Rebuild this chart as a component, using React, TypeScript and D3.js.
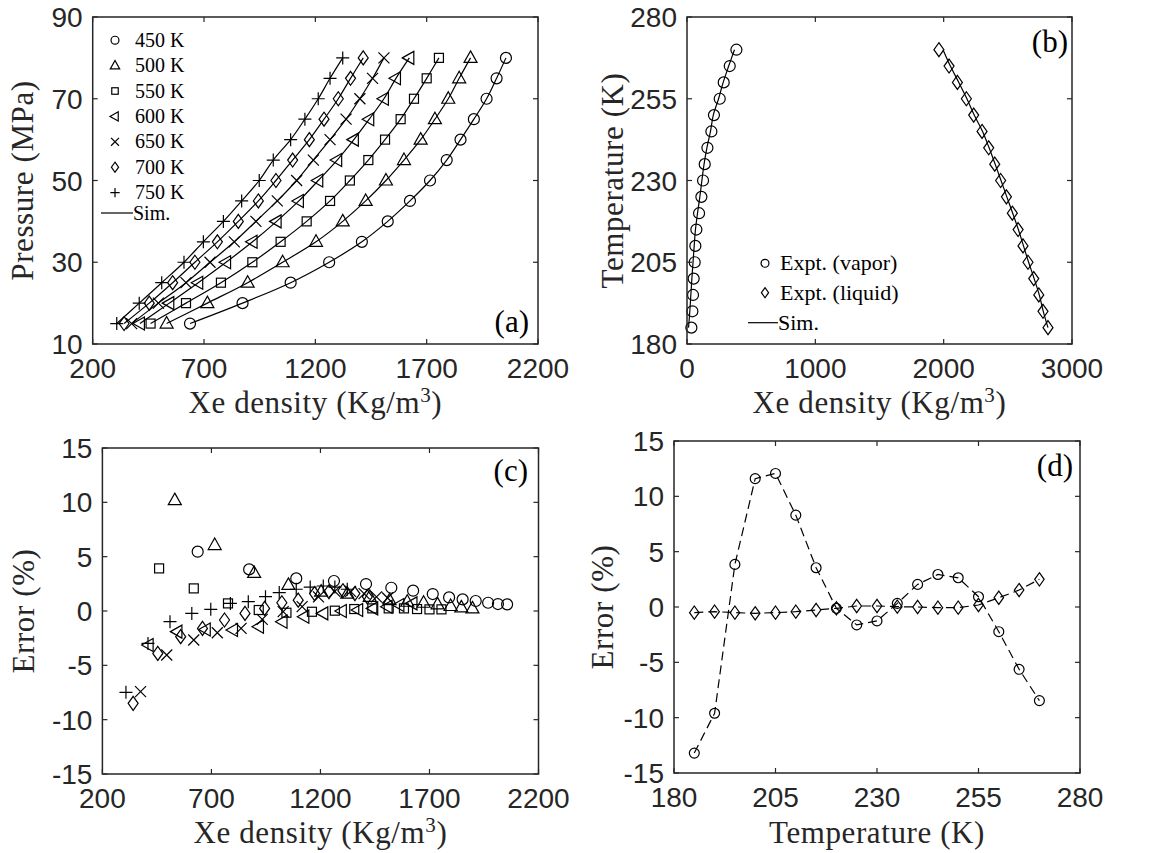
import React from 'react';
import * as d3 from 'd3';

// ---------------- DATA ----------------
const PRESSURES = [15, 20, 25, 30, 35, 40, 45, 50, 55, 60, 65, 70, 75, 80];
const ISOTHERM_LABELS = ['450 K', '500 K', '550 K', '600 K', '650 K', '700 K', '750 K'];
const ISOTHERM_MARKERS = ['circle', 'triUp', 'square', 'triLeft', 'cross', 'diamond', 'plus'];

// Xe density (kg/m3) along each isotherm at PRESSURES
const rho450 = [637, 873, 1089, 1262, 1409, 1525, 1625, 1715, 1790, 1852, 1912, 1969, 2014, 2056];
const rho500 = [532, 715, 896, 1053, 1203, 1323, 1426, 1517, 1598, 1673, 1737, 1797, 1846, 1897];
const rho550 = [460, 619, 776, 917, 1044, 1161, 1266, 1355, 1438, 1513, 1583, 1643, 1700, 1755];
const rho600 = [412, 544, 674, 799, 918, 1026, 1126, 1213, 1298, 1373, 1442, 1508, 1562, 1622];
const rho650 = [375, 495, 619, 727, 836, 933, 1029, 1116, 1191, 1266, 1338, 1400, 1457, 1508];
const rho700 = [341, 454, 559, 659, 760, 854, 944, 1023, 1098, 1173, 1239, 1303, 1358, 1415];
const rho750 = [308, 409, 510, 610, 697, 787, 869, 948, 1011, 1089, 1153, 1213, 1266, 1323];

// Error (%) for each isotherm point (panel c)
const err450 = [5.46, 3.83, 3.0, 2.76, 2.48, 2.14, 1.87, 1.56, 1.25, 1.07, 0.92, 0.76, 0.64, 0.61];
const err500 = [10.2, 6.07, 3.5, 2.4, 1.78, 1.6, 1.3, 1.0, 0.85, 0.76, 0.61, 0.46, 0.33, 0.24];
const err550 = [3.92, 2.08, 0.7, 0.09, -0.16, -0.07, 0.03, 0.18, 0.24, 0.24, 0.24, 0.18, 0.15, 0.15];
const err600 = [-3.13, -1.9, -1.7, -1.75, -1.44, -0.98, -0.52, -0.22, 0.0, 0.09, 0.24, 0.4, 0.55, 0.7];
const err650 = [-7.42, -4.05, -2.67, -2.0, -1.6, -0.77, -0.06, 0.4, 1.3, 1.8, 1.8, 1.6, 1.3, 1.2];
const err700 = [-8.5, -3.9, -2.36, -1.6, -0.83, -0.22, 0.24, 0.76, 1.0, 1.6, 1.78, 1.87, 1.6, 1.3];
const err750 = [-7.48, -2.98, -0.98, -0.22, 0.15, 0.7, 0.86, 1.32, 1.7, 2.0, 2.2, 2.3, 2.2, 2.0];

// Panel b: saturation densities
const SAT_TEMPS = [185, 190, 195, 200, 205, 210, 215, 220, 225, 230, 235, 240, 245, 250, 255, 260, 265, 270];
const rhoVapor = [34, 42, 47, 52, 60, 65, 73, 94, 112, 125, 138, 159, 190, 210, 255, 286, 333, 385];
const rhoLiquid = [2813, 2774, 2741, 2702, 2657, 2618, 2580, 2535, 2489, 2444, 2398, 2351, 2299, 2234, 2177, 2107, 2042, 1963];
const simVapor = [12, 22, 30, 38, 47, 56, 66, 82, 100, 116, 133, 155, 183, 205, 246, 282, 325, 370];
const simLiquid = [2813, 2776, 2745, 2705, 2662, 2622, 2582, 2538, 2492, 2447, 2401, 2354, 2303, 2238, 2181, 2118, 2052, 1995];

// Panel d: errors (%)
const errVapor = [-13.2, -9.6, 3.85, 11.6, 12.07, 8.3, 3.55, -0.12, -1.62, -1.26, 0.33, 2.04, 2.94, 2.64, 0.93, -2.23, -5.63, -8.46];
const errLiquid = [-0.51, -0.42, -0.51, -0.57, -0.51, -0.42, -0.27, -0.12, 0.09, 0.09, 0.03, 0.0, -0.06, -0.06, 0.18, 0.84, 1.53, 2.5];

const TICKS_A_X = [200, 700, 1200, 1700, 2200];
const TICKS_A_Y = [10, 30, 50, 70, 90];
const TICKS_B_X = [0, 1000, 2000, 3000];
const TICKS_B_Y = [180, 205, 230, 255, 280];
const TICKS_C_Y = [-15, -10, -5, 0, 5, 10, 15];
const TICKS_D_X = [180, 205, 230, 255, 280];

// ---------------- STYLE ----------------
const AX = '#262626';
const SANS = "'Liberation Sans', Arial, Helvetica, sans-serif";
const SERIF = "'Liberation Serif', 'Times New Roman', serif";
const SW = 1.2;

const ISO_RHO = [rho450, rho500, rho550, rho600, rho650, rho700, rho750];
const ISO_ERR = [err450, err500, err550, err600, err650, err700, err750];

function Marker({ type, x, y, s = 1 }: { type: string; x: number; y: number; s?: number }) {
  const common = { fill: 'none', stroke: '#000', strokeWidth: SW };
  switch (type) {
    case 'circle':
      return <circle cx={x} cy={y} r={5.5 * s} {...common} />;
    case 'triUp':
      return <path d={`M${x},${y - 7 * s}L${x + 6.5 * s},${y + 4.5 * s}L${x - 6.5 * s},${y + 4.5 * s}Z`} {...common} />;
    case 'triLeft':
      return <path d={`M${x - 7 * s},${y}L${x + 4.5 * s},${y - 6.5 * s}L${x + 4.5 * s},${y + 6.5 * s}Z`} {...common} />;
    case 'square':
      return <rect x={x - 4.5 * s} y={y - 4.5 * s} width={9 * s} height={9 * s} {...common} />;
    case 'cross':
      return <path d={`M${x - 5.5 * s},${y - 5.5 * s}L${x + 5.5 * s},${y + 5.5 * s}M${x - 5.5 * s},${y + 5.5 * s}L${x + 5.5 * s},${y - 5.5 * s}`} {...common} />;
    case 'diamond':
      return <path d={`M${x},${y - 7 * s}L${x + 5 * s},${y}L${x},${y + 7 * s}L${x - 5 * s},${y}Z`} {...common} />;
    case 'plus':
      return <path d={`M${x - 6.5 * s},${y}L${x + 6.5 * s},${y}M${x},${y - 6.5 * s}L${x},${y + 6.5 * s}`} {...common} />;
  }
  return null;
}

type AxesProps = {
  xs: d3.ScaleLinear<number, number>;
  ys: d3.ScaleLinear<number, number>;
  xticks: number[];
  yticks: number[];
  xlabel: React.ReactNode;
  ylabel: string;
  ylabelX: number;
  xlabelY: number;
  tag: string;
  tagX: number;
  tagY: number;
};

function Axes({ xs, ys, xticks, yticks, xlabel, ylabel, ylabelX, xlabelY, tag, tagX, tagY }: AxesProps) {
  const [x0, x1] = xs.range();
  const [y1, y0] = ys.range();
  const tl = 5;
  const cx = (x0 + x1) / 2;
  const cy = (y0 + y1) / 2;
  return (
    <g>
      {xticks.map((t) => (
        <g key={'xt' + t}>
          <line x1={xs(t)} x2={xs(t)} y1={y1} y2={y1 - tl} stroke={AX} strokeWidth={SW} />
          <line x1={xs(t)} x2={xs(t)} y1={y0} y2={y0 + tl} stroke={AX} strokeWidth={SW} />
          <text x={xs(t)} y={y1 + 34} textAnchor="middle" fontFamily={SANS} fontSize={28} fill={AX}>
            {t}
          </text>
        </g>
      ))}
      {yticks.map((t) => (
        <g key={'yt' + t}>
          <line x1={x0} x2={x0 + tl} y1={ys(t)} y2={ys(t)} stroke={AX} strokeWidth={SW} />
          <line x1={x1} x2={x1 - tl} y1={ys(t)} y2={ys(t)} stroke={AX} strokeWidth={SW} />
          <text x={x0 - 10} y={ys(t) + 10} textAnchor="end" fontFamily={SANS} fontSize={28} fill={AX}>
            {t}
          </text>
        </g>
      ))}
      <rect x={x0} y={y0} width={x1 - x0} height={y1 - y0} fill="none" stroke={AX} strokeWidth={1.5} />
      <text x={cx} y={xlabelY} textAnchor="middle" fontFamily={SERIF} fontSize={31} fill={AX} letterSpacing={0.6}>
        {xlabel}
      </text>
      <text
        transform={`translate(${ylabelX},${cy}) rotate(-90)`}
        textAnchor="middle"
        fontFamily={SERIF}
        fontSize={31}
        fill={AX}
        letterSpacing={0.6}
      >
        {ylabel}
      </text>
      <text x={tagX} y={tagY} textAnchor="end" fontFamily={SERIF} fontSize={31} fill="#000">
        {tag}
      </text>
    </g>
  );
}

const densityLabel = (
  <>
    <tspan>Xe density (Kg/m</tspan>
    <tspan dy={-11} fontSize={21}>3</tspan>
    <tspan dy={11}>)</tspan>
  </>
);

export default function App() {
  // scales
  const xa = d3.scaleLinear().domain([200, 2200]).range([92.7, 538]);
  const ya = d3.scaleLinear().domain([10, 90]).range([344, 17]);
  const xb = d3.scaleLinear().domain([0, 3000]).range([687, 1072]);
  const yb = d3.scaleLinear().domain([180, 280]).range([344, 17]);
  const xc = d3.scaleLinear().domain([200, 2200]).range([102.4, 538.5]);
  const yc = d3.scaleLinear().domain([-15, 15]).range([774, 448]);
  const xd = d3.scaleLinear().domain([180, 280]).range([674, 1080]);
  const yd = d3.scaleLinear().domain([-15, 15]).range([773, 441]);

  const lineA = d3
    .line<[number, number]>()
    .x((d) => xa(d[0]))
    .y((d) => ya(d[1]))
    .curve(d3.curveCatmullRom.alpha(0.5));
  const lineB = d3
    .line<[number, number]>()
    .x((d) => xb(d[0]))
    .y((d) => yb(d[1]))
    .curve(d3.curveCatmullRom.alpha(0.5));
  const lineD = d3
    .line<[number, number]>()
    .x((d) => xd(d[0]))
    .y((d) => yd(d[1]));

  const legendRowsA = ISOTHERM_LABELS.map((_, i) => 40.2 + i * 25.4);

  return (
    <svg width={1173} height={853} style={{ position: 'absolute', left: 0, top: 0, background: '#fff' }}>
      <rect x={0} y={0} width={1173} height={853} fill="#fff" />

      {/* ---------- Panel (a) ---------- */}
      {ISO_RHO.map((rho, i) => (
        <path
          key={'la' + i}
          d={lineA(rho.map((r, j) => [r, PRESSURES[j]] as [number, number])) || ''}
          fill="none"
          stroke="#000"
          strokeWidth={SW}
        />
      ))}
      {ISO_RHO.map((rho, i) =>
        rho.map((r, j) => <Marker key={`ma${i}-${j}`} type={ISOTHERM_MARKERS[i]} x={xa(r)} y={ya(PRESSURES[j])} />)
      )}
      {ISOTHERM_LABELS.map((lab, i) => (
        <g key={'lga' + i}>
          <Marker type={ISOTHERM_MARKERS[i]} x={115} y={legendRowsA[i]} s={0.72} />
          <text x={135} y={legendRowsA[i] + 6.5} fontFamily={SERIF} fontSize={20} fill="#000">
            {lab}
          </text>
        </g>
      ))}
      <line x1={101} x2={133} y1={213} y2={213} stroke="#000" strokeWidth={SW} />
      <text x={133} y={220} fontFamily={SERIF} fontSize={20} fill="#000">
        Sim.
      </text>
      <Axes
        xs={xa}
        ys={ya}
        xticks={TICKS_A_X}
        yticks={TICKS_A_Y}
        xlabel={densityLabel}
        ylabel="Pressure (MPa)"
        ylabelX={33}
        xlabelY={413}
        tag="(a)"
        tagX={529}
        tagY={332}
      />

      {/* ---------- Panel (b) ---------- */}
      <path
        d={lineB(simVapor.map((r, j) => [r, SAT_TEMPS[j]] as [number, number])) || ''}
        fill="none"
        stroke="#000"
        strokeWidth={SW}
      />
      <path
        d={lineB(simLiquid.map((r, j) => [r, SAT_TEMPS[j]] as [number, number])) || ''}
        fill="none"
        stroke="#000"
        strokeWidth={SW}
      />
      {rhoVapor.map((r, j) => (
        <Marker key={'bv' + j} type="circle" x={xb(r)} y={yb(SAT_TEMPS[j])} />
      ))}
      {rhoLiquid.map((r, j) => (
        <Marker key={'bl' + j} type="diamond" x={xb(r)} y={yb(SAT_TEMPS[j])} />
      ))}
      <Marker type="circle" x={765} y={263.3} s={0.72} />
      <text x={780} y={270} fontFamily={SERIF} fontSize={22} fill="#000">
        Expt. (vapor)
      </text>
      <Marker type="diamond" x={765} y={292.7} s={0.72} />
      <text x={780} y={299.5} fontFamily={SERIF} fontSize={22} fill="#000">
        Expt. (liquid)
      </text>
      <line x1={748} x2={778} y1={322.7} y2={322.7} stroke="#000" strokeWidth={SW} />
      <text x={778} y={330} fontFamily={SERIF} fontSize={22} fill="#000">
        Sim.
      </text>
      <Axes
        xs={xb}
        ys={yb}
        xticks={TICKS_B_X}
        yticks={TICKS_B_Y}
        xlabel={densityLabel}
        ylabel="Temperature (K)"
        ylabelX={623}
        xlabelY={413}
        tag="(b)"
        tagX={1068}
        tagY={52}
      />

      {/* ---------- Panel (c) ---------- */}
      {ISO_RHO.map((rho, i) =>
        rho.map((r, j) => <Marker key={`mc${i}-${j}`} type={ISOTHERM_MARKERS[i]} x={xc(r)} y={yc(ISO_ERR[i][j])} />)
      )}
      <Axes
        xs={xc}
        ys={yc}
        xticks={TICKS_A_X}
        yticks={TICKS_C_Y}
        xlabel={densityLabel}
        ylabel="Error (%)"
        ylabelX={34}
        xlabelY={843}
        tag="(c)"
        tagX={528}
        tagY={481}
      />

      {/* ---------- Panel (d) ---------- */}
      <path
        d={lineD(errVapor.map((e, j) => [SAT_TEMPS[j], e] as [number, number])) || ''}
        fill="none"
        stroke="#000"
        strokeWidth={SW}
        strokeDasharray="9,5"
      />
      <path
        d={lineD(errLiquid.map((e, j) => [SAT_TEMPS[j], e] as [number, number])) || ''}
        fill="none"
        stroke="#000"
        strokeWidth={SW}
        strokeDasharray="9,5"
      />
      {errVapor.map((e, j) => (
        <Marker key={'dv' + j} type="circle" x={xd(SAT_TEMPS[j])} y={yd(e)} s={0.9} />
      ))}
      {errLiquid.map((e, j) => (
        <Marker key={'dl' + j} type="diamond" x={xd(SAT_TEMPS[j])} y={yd(e)} s={0.95} />
      ))}
      <Axes
        xs={xd}
        ys={yd}
        xticks={TICKS_D_X}
        yticks={TICKS_C_Y}
        xlabel="Temperature (K)"
        ylabel="Error (%)"
        ylabelX={613}
        xlabelY={843}
        tag="(d)"
        tagX={1073}
        tagY={476}
      />
    </svg>
  );
}
